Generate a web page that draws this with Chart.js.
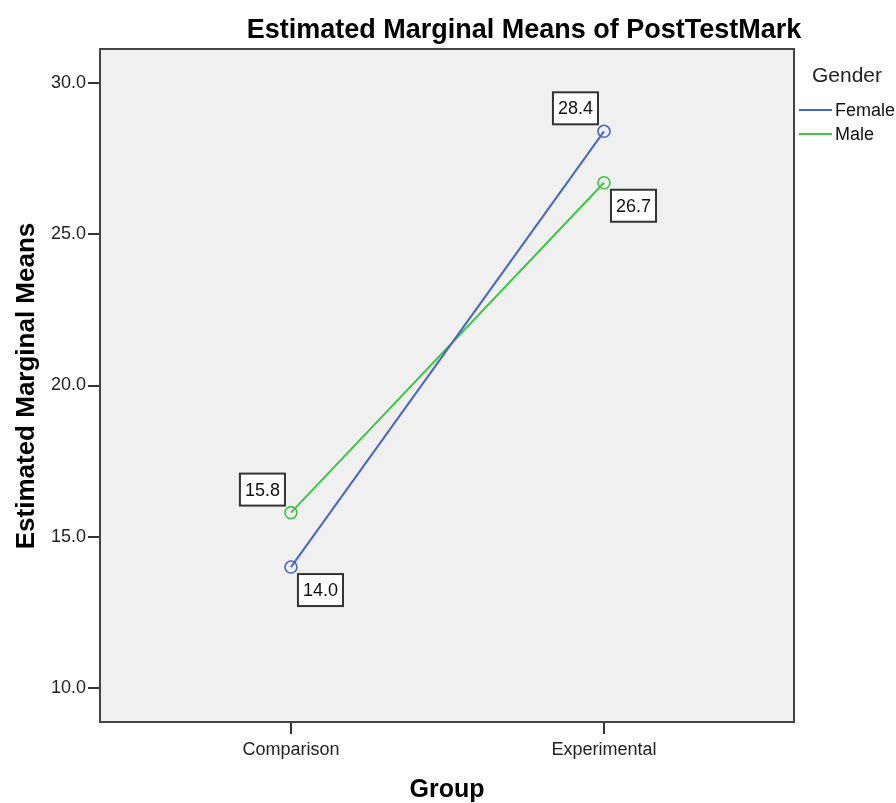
<!DOCTYPE html>
<html><head><meta charset="utf-8">
<script src="https://cdn.jsdelivr.net/npm/chart.js@4/dist/chart.umd.min.js"></script>
<style>html,body{margin:0;padding:0;background:#fff;}#wrap{width:896px;height:803px;position:relative;}</style>
</head><body><div id="wrap"><canvas id="c" width="896" height="803"></canvas></div>
<script>
const categories = ['Comparison', 'Experimental'];
const seriesNames = ['Female', 'Male'];
const femaleMeans = [14.0, 28.4];
const maleMeans = [15.8, 26.7];
const yTickValues = [10, 15, 20, 25, 30];
const chartTitle = 'Estimated Marginal Means of PostTestMark';
const xTitle = 'Group';
const yTitle = 'Estimated Marginal Means';
const legendTitle = 'Gender';

const FONT = '"Liberation Sans", Arial, Helvetica, sans-serif';
const seriesColors = ['#4a64c4', '#3fc444'];
const seriesValues = [femaleMeans, maleMeans];

const frameAndText = {
  id: 'frameAndText',
  beforeDraw(chart) {
    const ctx = chart.ctx, a = chart.chartArea;
    ctx.save();
    ctx.fillStyle = '#ffffff';
    ctx.fillRect(0, 0, chart.width, chart.height);
    ctx.fillStyle = '#f0f0f0';
    ctx.fillRect(a.left, a.top, a.right - a.left, a.bottom - a.top);
    ctx.restore();
  },
  afterDraw(chart) {
    const ctx = chart.ctx, a = chart.chartArea;
    ctx.save();
    ctx.strokeStyle = '#444';
    ctx.lineWidth = 2;
    ctx.strokeRect(a.left, a.top, a.right - a.left, a.bottom - a.top);
    // title
    ctx.fillStyle = '#000';
    ctx.font = 'bold 27px ' + FONT;
    ctx.textAlign = 'center';
    ctx.textBaseline = 'alphabetic';
    ctx.fillText(chartTitle, 524, 38);
    // x title
    ctx.font = 'bold 25px ' + FONT;
    ctx.fillText(xTitle, (a.left + a.right) / 2, 797);
    // y title
    ctx.save();
    ctx.translate(27, 386);
    ctx.rotate(-Math.PI / 2);
    ctx.font = 'bold 26px ' + FONT;
    ctx.textBaseline = 'middle';
    ctx.fillText(yTitle, 0, 0);
    ctx.restore();
    // legend
    ctx.textAlign = 'left';
    ctx.textBaseline = 'middle';
    ctx.fillStyle = '#222';
    ctx.font = '21px ' + FONT;
    ctx.fillText(legendTitle, 812, 76);
    ctx.font = '18px ' + FONT;
    seriesNames.forEach((n, i) => {
      const y = 110 + i * 24;
      ctx.strokeStyle = seriesColors[i];
      ctx.lineWidth = 2;
      ctx.beginPath(); ctx.moveTo(799, y); ctx.lineTo(832, y); ctx.stroke();
      ctx.fillStyle = '#111';
      ctx.fillText(n, 835, y + 1);
    });
    ctx.restore();
  },
  afterDatasetsDraw(chart) {
    const ctx = chart.ctx;
    ctx.save();
    ctx.font = '18px ' + FONT;
    ctx.textAlign = 'center';
    ctx.textBaseline = 'middle';
    categories.forEach((c, i) => {
      const pts = chart.data.datasets.map((ds, d) => {
        const el = chart.getDatasetMeta(d).data[i];
        return { x: el.x, y: el.y, v: ds.data[i].y };
      });
      const maxV = Math.max(...pts.map(p => p.v));
      pts.forEach(p => {
        const txt = p.v.toFixed(1);
        const w = ctx.measureText(txt).width + 10;
        const h = 32;
        let bx, by;
        if (p.v === maxV) { bx = p.x - 6 - w; by = p.y - 7 - h; }
        else { bx = p.x + 7; by = p.y + 7; }
        ctx.fillStyle = '#ffffff';
        ctx.fillRect(bx, by, w, h);
        ctx.strokeStyle = '#333';
        ctx.lineWidth = 2;
        ctx.strokeRect(bx, by, w, h);
        ctx.fillStyle = '#111';
        ctx.fillText(txt, bx + w / 2, by + h / 2 + 1);
      });
    });
    ctx.restore();
  }
};

const datasets = seriesNames.map((name, s) => ({
  label: name,
  data: seriesValues[s].map((v, i) => ({ x: i, y: v })),
  borderColor: seriesColors[s],
  borderWidth: 2,
  pointRadius: 6,
  pointHoverRadius: 6,
  pointBackgroundColor: 'rgba(0,0,0,0)',
  pointBorderColor: seriesColors[s],
  pointBorderWidth: 1.6,
  fill: false,
  tension: 0
}));

new Chart(document.getElementById('c'), {
  type: 'line',
  data: { datasets },
  options: {
    responsive: false,
    animation: false,
    layout: { padding: { top: 49, right: 102, bottom: 0, left: 0 } },
    plugins: { legend: { display: false }, title: { display: false }, tooltip: { enabled: false } },
    scales: {
      x: {
        type: 'linear',
        min: -0.61, max: 1.607,
        afterFit(s) { s.height = 81; },
        afterBuildTicks(s) { s.ticks = categories.map((c, i) => ({ value: i })); },
        border: { display: false },
        grid: { drawOnChartArea: false, drawTicks: true, tickLength: 12, tickColor: '#333', lineWidth: 2 },
        ticks: {
          padding: 5, color: '#222', font: { family: FONT, size: 18 },
          maxRotation: 0, autoSkip: false,
          callback: v => categories[v]
        }
      },
      y: {
        min: 8.88, max: 31.12,
        afterFit(s) { s.width = 100; },
        afterBuildTicks(s) { s.ticks = yTickValues.map(v => ({ value: v })); },
        border: { display: false },
        grid: { drawOnChartArea: false, drawTicks: true, tickLength: 12, tickColor: '#333', lineWidth: 2 },
        ticks: {
          padding: 2, color: '#222', font: { family: FONT, size: 18 },
          callback: v => Number(v).toFixed(1)
        }
      }
    }
  },
  plugins: [frameAndText]
});
</script></body></html>
